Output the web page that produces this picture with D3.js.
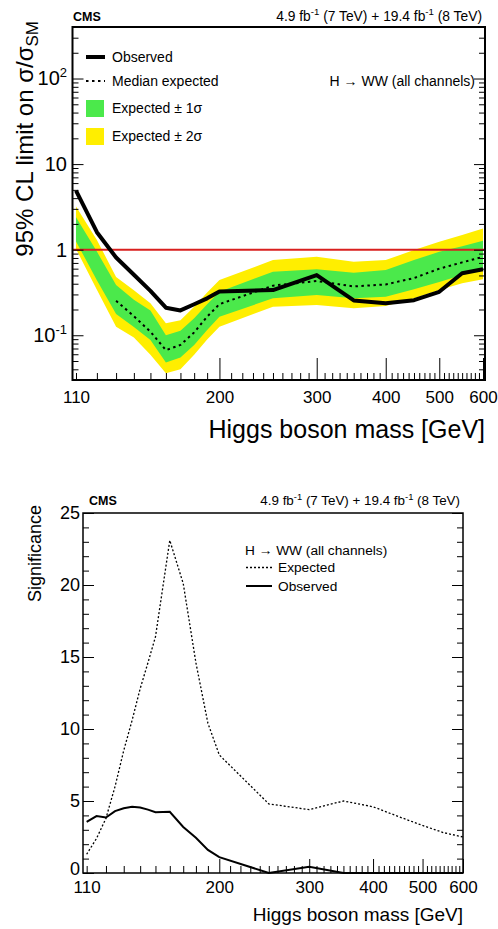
<!DOCTYPE html>
<html lang="en">
<head>
<meta charset="UTF-8">
<title>H to WW: limits and significance</title>
<script src="https://d3js.org/d3.v7.min.js"></script>
<style>
  body { margin: 0; background: #fff; }
  text { font-family: "Liberation Sans", Arial, Helvetica, sans-serif; }
</style>
</head>
<body>
<script>
// ---- data: upper panel (95% CL limit on sigma/sigma_SM) ----
const masses        = [110, 120, 130, 140, 150, 160, 170, 180, 190, 200, 250, 300, 350, 400, 450, 500, 550, 600];
const limitObserved = [4.9, 1.6, 0.81, 0.51, 0.33, 0.21, 0.195, 0.23, 0.27, 0.325, 0.337, 0.505, 0.255, 0.236, 0.257, 0.322, 0.53, 0.59];
const limitMedian   = [null, null, 0.253, 0.167, 0.11, 0.067, 0.077, 0.108, 0.165, 0.231, 0.38, 0.43, 0.372, 0.393, 0.465, 0.60, 0.71, 0.826];
const limitPlus1    = [2.4, 0.95, 0.386, 0.26, 0.195, 0.10, 0.113, 0.158, 0.23, 0.322, 0.552, 0.589, 0.537, 0.578, 0.756, 0.945, 1.10, 1.27];
const limitMinus1   = [1.25, 0.44, 0.177, 0.125, 0.088, 0.048, 0.055, 0.077, 0.115, 0.165, 0.27, 0.295, 0.27, 0.282, 0.344, 0.42, 0.505, 0.578];
const limitPlus2    = [3.2, 1.3, 0.48, 0.335, 0.236, 0.138, 0.15, 0.216, 0.315, 0.441, 0.756, 0.826, 0.722, 0.756, 0.989, 1.24, 1.48, 1.77];
const limitMinus2   = [1.02, 0.34, 0.126, 0.094, 0.059, 0.036, 0.04, 0.059, 0.089, 0.126, 0.216, 0.225, 0.207, 0.219, 0.27, 0.337, 0.404, 0.45];

// ---- data: lower panel (significance) ----
const sigMasses   = [110, 115, 120, 125, 130, 135, 140, 145, 150, 160, 170, 180, 190, 200, 250, 300, 350, 400, 450, 500, 550, 600];
const sigExpected = [1.3, 2.4, 3.8, 6.0, 8.5, 10.6, 12.8, 14.6, 16.4, 23.1, 20.1, 14.6, 10.4, 8.2, 4.8, 4.4, 5.0, 4.6, 3.9, 3.3, 2.8, 2.5];
const sigObserved = [3.55, 3.95, 3.85, 4.3, 4.5, 4.6, 4.55, 4.4, 4.22, 4.25, 3.2, 2.45, 1.6, 1.1, 0, 0.44, 0, 0, 0, 0, 0, 0];

// ---- axis ticks ----
const massLabels = [110, 200, 300, 400, 500, 600];
const massMajor  = [200, 300, 400, 500, 600];
const massMinor  = d3.range(110, 600, 10).filter(m => !massMajor.includes(m));
const limitMajor = [0.1, 1, 10, 100];
const limitMinor = [];
[0.01, 0.1, 1, 10, 100].forEach(dec => {
    for (let k = 2; k <= 9; k++) {
        const v = k * dec;
        if (v >= 0.03 && v <= 400) limitMinor.push(v);
    }
});
const sigMajor = [0, 5, 10, 15, 20, 25];
const sigMinor = d3.range(0, 26).filter(v => v % 5 !== 0);

const svg = d3.select("body").append("svg")
    .attr("width", 498)
    .attr("height", 929);

// small helper: draw inward ticks with a d3 axis and drop the domain path
function ticks(g, axis) {
    g.call(axis);
    g.select(".domain").remove();
    g.selectAll(".tick line").attr("stroke", "#000");
    return g;
}

function labels(g, axis, size) {
    g.call(axis);
    g.select(".domain").remove();
    g.attr("font-family", null).attr("font-size", size);
    g.selectAll(".tick text").attr("fill", "#000");
    return g;
}

// =================== upper panel ===================
const P1 = { left: 72.5, right: 485, top: 27, bottom: 380 };
const x1 = d3.scaleLog().domain([108.4, 605]).range([P1.left, P1.right]);
const y1 = d3.scaleLog().domain([0.03, 400]).range([P1.bottom, P1.top]);

const idx = d3.range(masses.length);

// yellow and green bands
svg.append("path")
    .attr("d", d3.area().x(i => x1(masses[i])).y0(i => y1(limitMinus2[i])).y1(i => y1(limitPlus2[i]))(idx))
    .attr("fill", "#ffee00");
svg.append("path")
    .attr("d", d3.area().x(i => x1(masses[i])).y0(i => y1(limitMinus1[i])).y1(i => y1(limitPlus1[i]))(idx))
    .attr("fill", "#4be94b");

// SM line at 1
svg.append("line")
    .attr("x1", P1.left).attr("x2", P1.right)
    .attr("y1", y1(1)).attr("y2", y1(1))
    .attr("stroke", "#d9201f").attr("stroke-width", 2);

// median expected (dotted)
svg.append("path")
    .attr("d", d3.line().defined(i => limitMedian[i] != null)
        .x(i => x1(masses[i])).y(i => y1(limitMedian[i]))(idx))
    .attr("fill", "none").attr("stroke", "#000")
    .attr("stroke-width", 2).attr("stroke-dasharray", "2.5,3.5");

// observed
svg.append("path")
    .attr("d", d3.line().x(i => x1(masses[i])).y(i => y1(limitObserved[i]))(idx))
    .attr("fill", "none").attr("stroke", "#000")
    .attr("stroke-width", 4).attr("stroke-linejoin", "round");

// frame
svg.append("rect")
    .attr("x", P1.left).attr("y", P1.top)
    .attr("width", P1.right - P1.left).attr("height", P1.bottom - P1.top)
    .attr("fill", "none").attr("stroke", "#000").attr("stroke-width", 2);

// x ticks
ticks(svg.append("g").attr("transform", `translate(0,${P1.bottom})`),
    d3.axisBottom(x1).tickValues(massMinor).tickSize(-7).tickFormat(""));
ticks(svg.append("g").attr("transform", `translate(0,${P1.bottom})`),
    d3.axisBottom(x1).tickValues(massMajor).tickSize(-22).tickFormat(""));
labels(svg.append("g").attr("transform", `translate(0,${P1.bottom})`),
    d3.axisBottom(x1).tickValues(massLabels).tickSize(0).tickPadding(11).tickFormat(d3.format("d")), 17);

// y ticks, both sides
[[d3.axisLeft, P1.left], [d3.axisRight, P1.right]].forEach(([ax, xp]) => {
    ticks(svg.append("g").attr("transform", `translate(${xp},0)`),
        ax(y1).tickValues(limitMinor).tickSize(-6).tickFormat(""));
    ticks(svg.append("g").attr("transform", `translate(${xp},0)`),
        ax(y1).tickValues(limitMajor).tickSize(-11).tickFormat(""));
});
const yl = labels(svg.append("g").attr("transform", `translate(${P1.left},0)`),
    d3.axisLeft(y1).tickValues(limitMajor).tickSize(0).tickPadding(5.5).tickFormat(""), 20);
yl.selectAll(".tick text").each(function (d) {
    const t = d3.select(this);
    if (d === 1) { t.text("1"); return; }
    if (d === 10) { t.text("10"); return; }
    t.append("tspan").text("10");
    t.append("tspan").attr("font-size", 13).attr("dy", "-0.65em")
        .text(d === 100 ? "2" : "-1");
});

// titles
const yt1 = svg.append("text")
    .attr("transform", "translate(33,21) rotate(-90)")
    .attr("text-anchor", "end").attr("font-size", 24);
yt1.append("tspan").text("95% CL limit on σ/σ");
yt1.append("tspan").attr("font-size", 17).attr("dy", "0.3em").text("SM");

svg.append("text")
    .attr("x", P1.right).attr("y", 438)
    .attr("text-anchor", "end").attr("font-size", 25)
    .text("Higgs boson mass [GeV]");

function header(xl, xr, yb, size) {
    svg.append("text").attr("x", xl).attr("y", yb)
        .attr("font-size", 12.5).attr("font-weight", "bold").text("CMS");
    const t = svg.append("text").attr("x", xr).attr("y", yb)
        .attr("text-anchor", "end").attr("font-size", size);
    const up = size * 0.4;
    t.append("tspan").text("4.9 fb");
    t.append("tspan").attr("font-size", size * 0.7).attr("dy", -up).text("-1");
    t.append("tspan").attr("dy", up).text(" (7 TeV) + 19.4 fb");
    t.append("tspan").attr("font-size", size * 0.7).attr("dy", -up).text("-1");
    t.append("tspan").attr("dy", up).text(" (8 TeV)");
}
header(73, 482, 21, 13.8);

// legend
const leg1 = svg.append("g").attr("font-size", 14);
leg1.append("line").attr("x1", 86).attr("x2", 105).attr("y1", 57).attr("y2", 57)
    .attr("stroke", "#000").attr("stroke-width", 4);
leg1.append("text").attr("x", 112).attr("y", 62).text("Observed");
leg1.append("line").attr("x1", 86).attr("x2", 105).attr("y1", 81).attr("y2", 81)
    .attr("stroke", "#000").attr("stroke-width", 2).attr("stroke-dasharray", "2.5,3.5");
leg1.append("text").attr("x", 112).attr("y", 86).text("Median expected");
leg1.append("rect").attr("x", 86).attr("y", 100).attr("width", 18).attr("height", 17).attr("fill", "#4be94b");
leg1.append("text").attr("x", 112).attr("y", 113).text("Expected ± 1σ");
leg1.append("rect").attr("x", 86).attr("y", 128).attr("width", 18).attr("height", 17).attr("fill", "#ffee00");
leg1.append("text").attr("x", 112).attr("y", 141).text("Expected ± 2σ");
leg1.append("text").attr("x", 475).attr("y", 86).attr("text-anchor", "end").text("H → WW (all channels)");

// =================== lower panel ===================
const P2 = { left: 83, right: 463, top: 513, bottom: 873 };
const x2 = d3.scaleLog().domain([108.2, 600]).range([P2.left, P2.right]);
const y2 = d3.scaleLinear().domain([0, 25]).range([P2.bottom, P2.top]);
const sidx = d3.range(sigMasses.length);

svg.append("path")
    .attr("d", d3.line().x(i => x2(sigMasses[i])).y(i => y2(sigExpected[i]))(sidx))
    .attr("fill", "none").attr("stroke", "#000")
    .attr("stroke-width", 1.3).attr("stroke-dasharray", "2,2");
svg.append("path")
    .attr("d", d3.line().x(i => x2(sigMasses[i])).y(i => y2(sigObserved[i]))(sidx))
    .attr("fill", "none").attr("stroke", "#000").attr("stroke-width", 2);

svg.append("rect")
    .attr("x", P2.left).attr("y", P2.top)
    .attr("width", P2.right - P2.left).attr("height", P2.bottom - P2.top)
    .attr("fill", "none").attr("stroke", "#000").attr("stroke-width", 1.5);

ticks(svg.append("g").attr("transform", `translate(0,${P2.bottom})`),
    d3.axisBottom(x2).tickValues(massMinor).tickSize(-7).tickFormat(""));
ticks(svg.append("g").attr("transform", `translate(0,${P2.bottom})`),
    d3.axisBottom(x2).tickValues(massMajor).tickSize(-14).tickFormat(""));
labels(svg.append("g").attr("transform", `translate(0,${P2.bottom})`),
    d3.axisBottom(x2).tickValues(massLabels).tickSize(0).tickPadding(8).tickFormat(d3.format("d")), 17);

[[d3.axisLeft, P2.left], [d3.axisRight, P2.right]].forEach(([ax, xp]) => {
    ticks(svg.append("g").attr("transform", `translate(${xp},0)`),
        ax(y2).tickValues(sigMinor).tickSize(-6).tickFormat(""));
    ticks(svg.append("g").attr("transform", `translate(${xp},0)`),
        ax(y2).tickValues(sigMajor).tickSize(-11).tickFormat(""));
});
const yl2 = labels(svg.append("g").attr("transform", `translate(${P2.left},0)`),
    d3.axisLeft(y2).tickValues(sigMajor).tickSize(0).tickPadding(3).tickFormat(d3.format("d")), 18);
// the "0" sits just above the "110" label as in the original
yl2.selectAll(".tick text").filter(d => d === 0).attr("dy", "0.1em");

svg.append("text")
    .attr("transform", "translate(41,505) rotate(-90)")
    .attr("text-anchor", "end").attr("font-size", 18)
    .text("Significance");
svg.append("text")
    .attr("x", P2.right).attr("y", 921)
    .attr("text-anchor", "end").attr("font-size", 19)
    .text("Higgs boson mass [GeV]");

header(89, 460, 505, 13.4);

const leg2 = svg.append("g").attr("font-size", 13.7);
leg2.append("text").attr("x", 245).attr("y", 555).text("H → WW (all channels)");
leg2.append("line").attr("x1", 246).attr("x2", 272).attr("y1", 567.5).attr("y2", 567.5)
    .attr("stroke", "#000").attr("stroke-width", 1.3).attr("stroke-dasharray", "2,2");
leg2.append("text").attr("x", 278).attr("y", 572).text("Expected");
leg2.append("line").attr("x1", 246).attr("x2", 272).attr("y1", 586).attr("y2", 586)
    .attr("stroke", "#000").attr("stroke-width", 2);
leg2.append("text").attr("x", 278).attr("y", 591).text("Observed");
</script>
</body>
</html>
